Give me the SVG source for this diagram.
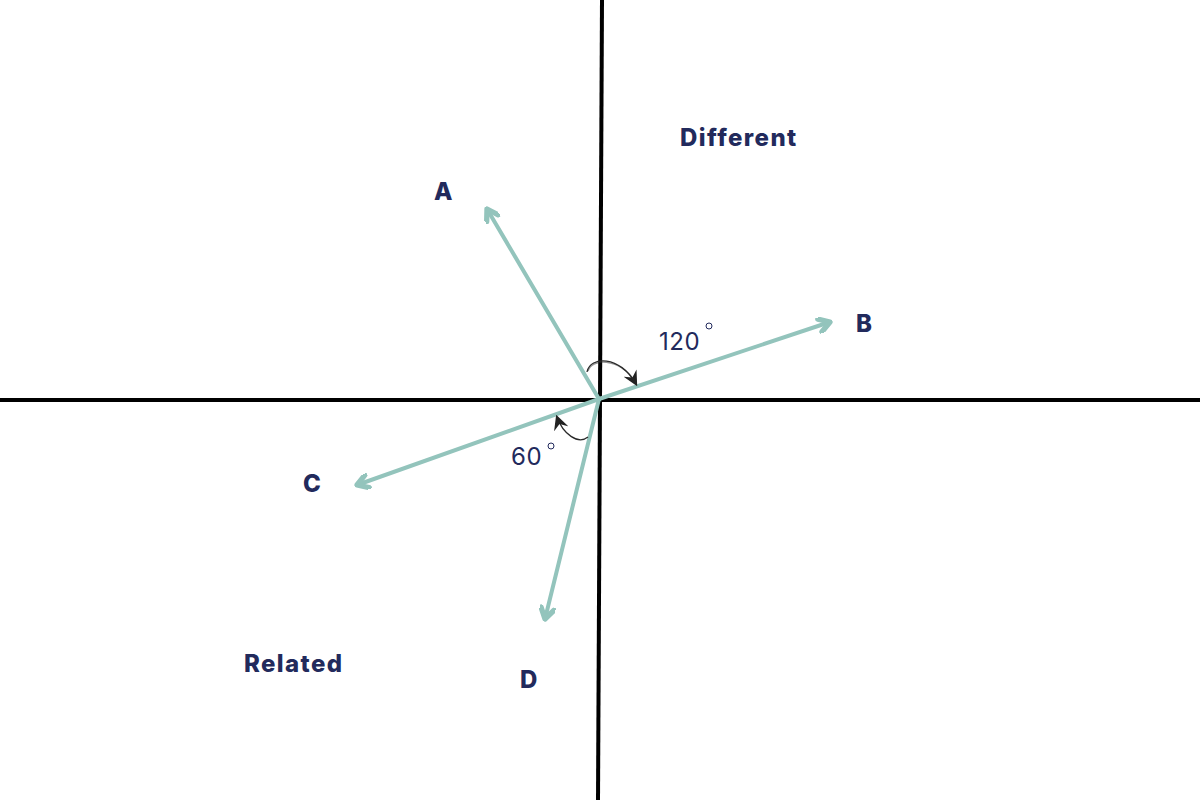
<svg xmlns="http://www.w3.org/2000/svg" width="1200" height="800" viewBox="0 0 1200 800">
<defs>
<style>
.axis{stroke:#000;stroke-width:4;fill:none}
.vec{stroke:#93c4bc;stroke-width:4;fill:none;stroke-linecap:round}
.head{stroke:#93c4bc;stroke-width:4;fill:none;stroke-linecap:round;stroke-linejoin:round}
.arc{stroke:#2a2a2a;stroke-width:1.3;fill:none}
.lbl{font-family:Inter,"Noto Sans",sans-serif;font-weight:800;font-size:24px;letter-spacing:1.4px;fill:#222a5c}
.num{font-family:Inter,"Noto Sans",sans-serif;font-weight:400;font-size:24px;letter-spacing:0.5px;fill:#222a5c}
.deg{stroke:#222a5c;stroke-width:1;fill:none}
</style>
<marker id="open" viewBox="0 0 12 12" refX="10" refY="6" markerWidth="4" markerHeight="4" markerUnits="strokeWidth" orient="auto">
<path d="M2,1 L10,6 L2,11" class="head" stroke-width="2"/>
</marker>
<marker id="dark" viewBox="0 0 12 12" refX="10" refY="6" markerWidth="15" markerHeight="15" markerUnits="userSpaceOnUse" orient="auto">
<path d="M0,0 L12,6 L0,12 L4,6 Z" fill="#222"/>
</marker>
</defs>
<g id="axes">
<line class="axis" x1="602" y1="0" x2="598" y2="800"/>
<line class="axis" x1="0" y1="400" x2="1200" y2="400"/>
</g>
<g id="connectors">
<line class="vec" x1="599" y1="399" x2="487" y2="209" marker-end="url(#open)"/>
<line class="vec" x1="599" y1="399" x2="830" y2="322" marker-end="url(#open)"/>
<line class="vec" x1="599" y1="399" x2="357" y2="485" marker-end="url(#open)"/>
<line class="vec" x1="599" y1="399" x2="545" y2="619" marker-end="url(#open)"/>
<path class="arc" d="M587,372 C590,356 620,355 636,384" marker-end="url(#dark)"/>
<path class="arc" d="M588,371 C592,358 618,358 634,380" opacity="0.5"/>
<path class="arc" d="M588,437 C578,445 563,434 557,417" marker-end="url(#dark)"/>
</g>
<g id="A"><text class="lbl" x="434" y="200">A</text></g>
<g id="B"><text class="lbl" x="856" y="332">B</text></g>
<g id="C"><text class="lbl" x="303" y="492">C</text></g>
<g id="D"><text class="lbl" x="520" y="688">D</text></g>
<g id="Different"><text class="lbl" x="680" y="146">Different</text></g>
<g id="Related"><text class="lbl" x="244" y="672">Related</text></g>
<g id="angle120">
<text class="num" x="659" y="350">120</text>
<circle class="deg" cx="709" cy="326" r="3"/>
</g>
<g id="angle60">
<text class="num" x="511" y="465">60</text>
<circle class="deg" cx="551" cy="446" r="3"/>
</g>
</svg>
